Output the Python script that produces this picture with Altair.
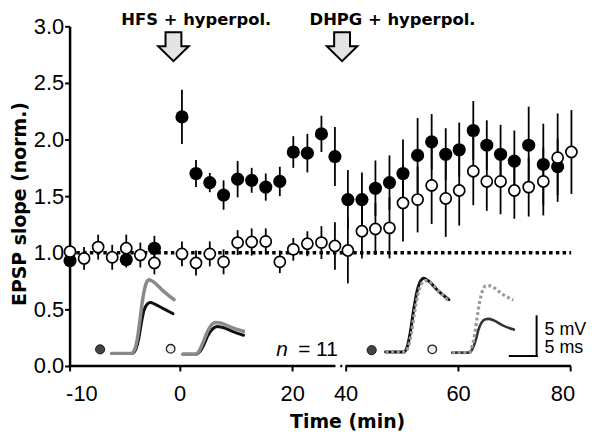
import altair as alt
import pandas as pd

# ---------------- data ----------------
# positions on the (broken) time axis, in axis units
base_pos = [-19.5, -17.0, -14.5, -12.0, -9.5, -7.0, -4.5]
post_pos = [0.4, 2.9, 5.35, 7.8, 10.3, 12.8, 15.3, 17.8, 20.2, 22.7, 25.2, 27.6]
late_pos = [29.9, 32.4, 34.8, 37.3, 39.7, 42.3, 44.8, 47.3, 49.7, 52.2, 54.6,
            57.05, 59.5, 62.05, 64.65, 67.2, 69.65]

# filled circles
filled_base_pos = [-19.5, -9.5, -4.5]
filled_base = [0.93, 0.94, 1.04]
filled_base_sem = [0.06, 0.07, 0.11]
filled_post = [2.20, 1.70, 1.62, 1.51, 1.65, 1.64, 1.58, 1.63, 1.89, 1.88, 2.05, 1.85]
filled_post_sem = [0.24, 0.12, 0.085, 0.13, 0.16, 0.11, 0.12, 0.13, 0.14, 0.17, 0.16, 0.26]
filled_late = [1.47, 1.47, 1.57, 1.62, 1.70, 1.86, 1.98, 1.87, 1.91, 2.08, 1.95,
               1.87, 1.81, 1.95, 1.78, 1.76]
filled_late_sem = [0.26, 0.24, 0.245, 0.24, 0.30, 0.33, 0.245, 0.23, 0.24, 0.26, 0.22,
                   0.26, 0.27, 0.34, 0.36, 0.25]

# open circles
open_base = [1.01, 0.95, 1.05, 0.96, 1.04, 0.98, 0.91]
open_base_sem = [0.05, 0.10, 0.11, 0.11, 0.12, 0.11, 0.10]
open_post = [0.99, 0.91, 0.99, 0.92, 1.09, 1.095, 1.10, 0.92, 1.03, 1.08, 1.09, 1.06]
open_post_sem = [0.11, 0.11, 0.11, 0.11, 0.11, 0.12, 0.115, 0.10, 0.10, 0.11, 0.145, 0.21]
open_late = [1.02, 1.19, 1.21, 1.22, 1.44, 1.47, 1.595, 1.48, 1.55, 1.72, 1.63,
             1.63, 1.55, 1.58, 1.63, 1.84, 1.89]
open_late_sem = [0.29, 0.24, 0.23, 0.27, 0.34, 0.29, 0.34, 0.34, 0.31, 0.30, 0.26,
                 0.29, 0.25, 0.26, 0.30, 0.39, 0.37]

# x axis ticks (axis units) and y ticks
x_ticks = [-19.58, 0, 20, 29.5, 49.5, 69.5]
y_ticks = [0, 0.5, 1.0, 1.5, 2.0, 2.5, 3.0]
X_MIN, X_MAX = -19.58, 69.6
BREAK_LEFT_END, BREAK_DOT, BREAK_RIGHT_START = 27.7, [28.55, 28.9], 29.45

# arrows and their labels
arrow_x = [-1.11, 28.87]
arrow_y = [2.82, 2.82]
arrow_text = ["HFS + hyperpol.", "DHPG + hyperpol."]
arrow_text_x = [2.95, 37.84]
arrow_text_y = [3.013, 3.013]

# EPSP example traces (ms, mV)
t1_gray_ms = [0, 3.6, 4.2, 4.8, 5.3, 5.8, 6.3, 6.9, 7.5, 9.5, 11.6]
t1_gray_mv = [0, 0, 0.4, 2.0, 4.5, 7.0, 8.6, 9.25, 9.1, 7.9, 6.75]
t1_black_ms = [0, 3.8, 4.4, 5.0, 5.5, 6.0, 6.6, 7.2, 8.0, 9.7, 11.4]
t1_black_mv = [0, 0, 0.4, 1.8, 3.8, 5.4, 6.2, 6.4, 6.2, 5.6, 5.0]
t2_gray_ms = [0, 2.3, 3.0, 3.7, 4.4, 5.2, 6.1, 7.0, 9.0, 11.3]
t2_gray_mv = [0, 0, 0.4, 1.4, 2.6, 3.6, 4.0, 3.95, 3.4, 2.9]
t2_black_ms = [0, 2.4, 3.1, 3.9, 4.6, 5.4, 6.4, 7.3, 9.2, 11.3]
t2_black_mv = [0, 0, 0.3, 1.2, 2.3, 3.1, 3.5, 3.4, 2.9, 2.4]
t3_black_ms = [0, 3.4, 4.0, 4.6, 5.2, 5.8, 6.4, 7.1, 7.9, 9.8, 11.8]
t3_black_mv = [0, 0, 0.6, 2.5, 5.2, 7.5, 8.8, 9.3, 9.0, 7.7, 6.6]
t3_gray_ms = [0, 3.6, 4.2, 4.8, 5.4, 6.0, 6.7, 7.4, 8.3, 10.0, 11.8]
t3_gray_mv = [0, 0, 0.6, 2.4, 5.0, 7.2, 8.6, 9.0, 8.8, 7.6, 6.4]
t4_gray_ms = [0, 3.1, 3.7, 4.2, 4.6, 5.1, 5.6, 6.3, 7.1, 8.5, 10.0, 11.4]
t4_gray_mv = [0, 0, 0.8, 2.3, 4.2, 6.3, 7.7, 8.4, 8.4, 7.8, 7.1, 6.6]
t4_black_ms = [0, 3.2, 3.8, 4.4, 4.9, 5.5, 6.2, 6.8, 7.6, 9.5, 11.5]
t4_black_mv = [0, 0, 0.5, 1.6, 2.9, 3.8, 4.2, 4.25, 4.1, 3.4, 2.9]
trace_origin_x = {"t1": -12.07, "t2": 0.57, "t3": 36.61, "t4": 48.45}
trace_origin_y = {"t1": 0.1115, "t2": 0.103, "t3": 0.123, "t4": 0.118}
MS_TO_X = 0.954   # 5 ms scale bar
MV_TO_Y = 0.0702  # 5 mV scale bar

marker_dark_x = [-14.15, 34.13]
marker_dark_y = [0.147, 0.140]
marker_light_x = [-1.61, 44.91]
marker_light_y = [0.152, 0.147]

bar_corner_x, bar_corner_y = 63.46, 0.088
bar_len_x, bar_len_y = 5 * MS_TO_X, 5 * MV_TO_Y
bar_label_x = 64.88
bar_labels = ["5 mV", "5 ms"]
bar_label_y = [0.278, 0.118]

n_label_x = [17.17, 21.06]
n_label_y = 0.088

# ---------------- build tables ----------------
fp = filled_base_pos + post_pos + late_pos[:len(filled_late)]
fv = filled_base + filled_post + filled_late
fs = filled_base_sem + filled_post_sem + filled_late_sem
op = base_pos + post_pos + late_pos
ov = open_base + open_post + open_late
os_ = open_base_sem + open_post_sem + open_late_sem

df_f = pd.DataFrame({"x": fp, "y": fv, "lo": [v - s for v, s in zip(fv, fs)],
                     "hi": [v + s for v, s in zip(fv, fs)]})
df_o = pd.DataFrame({"x": op, "y": ov, "lo": [v - s for v, s in zip(ov, os_)],
                     "hi": [v + s for v, s in zip(ov, os_)]})
df_bars = pd.concat([df_f, df_o], ignore_index=True)


def trace(name, key, ms, mv):
    return pd.DataFrame({
        "id": name, "i": list(range(len(ms))),
        "x": [trace_origin_x[key] + t * MS_TO_X for t in ms],
        "y": [trace_origin_y[key] + v * MV_TO_Y for v in mv],
    })


tr_black = pd.concat([trace("t1b", "t1", t1_black_ms, t1_black_mv),
                      trace("t2b", "t2", t2_black_ms, t2_black_mv),
                      trace("t3b", "t3", t3_black_ms, t3_black_mv)])
tr_black4 = trace("t4b", "t4", t4_black_ms, t4_black_mv)
tr_gray = pd.concat([trace("t1g", "t1", t1_gray_ms, t1_gray_mv),
                     trace("t2g", "t2", t2_gray_ms, t2_gray_mv)])
tr_dot = pd.concat([trace("t3g", "t3", t3_gray_ms, t3_gray_mv),
                    trace("t4g", "t4", t4_gray_ms, t4_gray_mv)])

xs = alt.Scale(domain=[X_MIN, X_MAX], nice=False, zero=False)
ys = alt.Scale(domain=[0, 3], nice=False, zero=False)

x_axis = alt.Axis(
    values=x_ticks,
    labelExpr="datum.value < -10 ? '-10' : format(datum.value < 25 ? datum.value : datum.value + 10.5, 'd')",
    title="Time (min)", titleX=279.5, titleY=62,
)
y_axis = alt.Axis(
    values=y_ticks, format=".1f",
    title="EPSP slope (norm.)", titleX=-44, titleY=178.4,
)

X = lambda **k: alt.X("x:Q", scale=xs, **k)
Y = lambda **k: alt.Y("y:Q", scale=ys, **k)

# error bars (carry the axes)
bars = alt.Chart(df_bars).mark_rule(color="black", strokeWidth=1.8).encode(
    x=X(axis=x_axis), y=alt.Y("lo:Q", scale=ys, axis=y_axis), y2="hi:Q")

dotted = alt.Chart(pd.DataFrame({"x": [X_MIN], "x2": [X_MAX], "y": [1.0]})).mark_rule(
    color="black", strokeWidth=3.5, strokeDash=[3.5, 3.3]).encode(
    x=X(), x2="x2:Q", y=Y())

axis_line = alt.Chart(pd.DataFrame({
    "x": [X_MIN, BREAK_DOT[0], BREAK_RIGHT_START],
    "x2": [BREAK_LEFT_END, BREAK_DOT[1], X_MAX],
    "y": [0, 0, 0]})).mark_rule(color="black", strokeWidth=2.5).encode(
    x=X(), x2="x2:Q", y=Y())

filled = alt.Chart(df_f).mark_circle(size=175, color="black", opacity=1).encode(
    x=X(), y=Y())
opened = alt.Chart(df_o).mark_point(shape="circle", filled=True, fill="white",
                                    stroke="black", strokeWidth=1.7, size=125,
                                    opacity=1).encode(x=X(), y=Y())

arrow_path = "M -0.52 -0.945 L 0.52 -0.945 L 0.52 -0.03 L 1 -0.03 L 0 0.945 L -1 -0.03 L -0.52 -0.03 Z"
arrows = alt.Chart(pd.DataFrame({"x": arrow_x, "y": arrow_y})).mark_point(
    shape=arrow_path, size=942, filled=True, fill="#e4e4e4", stroke="black",
    strokeWidth=2, opacity=1, strokeJoin="miter").encode(x=X(), y=Y())
arrow_labels = alt.Chart(pd.DataFrame({"x": arrow_text_x, "y": arrow_text_y,
                                       "t": arrow_text})).mark_text(
    font="DejaVu Sans", fontWeight="bold", fontSize=16.5, color="black",
    align="center", baseline="alphabetic").encode(x=X(), y=Y(), text="t:N")


def lines(df, color, width, dash=None):
    kw = dict(color=color, strokeWidth=width, interpolate="monotone",
              strokeJoin="round", strokeCap="round")
    if dash:
        kw["strokeDash"] = dash
        kw["strokeCap"] = "butt"
    return alt.Chart(df).mark_line(**kw).encode(
        x=X(), y=Y(), detail="id:N", order="i:Q")


tr1 = lines(tr_black, "#111111", 3)
tr1b = lines(tr_black4, "#333333", 2.6)
tr2 = lines(tr_gray, "#8a8a8a", 3.5)
tr3 = lines(tr_dot, "#9a9a9a", 3.2, [3, 2.6])

mk_dark = alt.Chart(pd.DataFrame({"x": marker_dark_x, "y": marker_dark_y})).mark_point(
    shape="circle", filled=True, fill="#444444", stroke="#1a1a1a", strokeWidth=1,
    size=85, opacity=1).encode(x=X(), y=Y())
mk_light = alt.Chart(pd.DataFrame({"x": marker_light_x, "y": marker_light_y})).mark_point(
    shape="circle", filled=True, fill="#eeeeee", stroke="#222222", strokeWidth=1.3,
    size=75, opacity=1).encode(x=X(), y=Y())

scale_bar = alt.Chart(pd.DataFrame({
    "x": [bar_corner_x, bar_corner_x - bar_len_x],
    "x2": [bar_corner_x, bar_corner_x],
    "y": [bar_corner_y, bar_corner_y],
    "y2": [bar_corner_y + bar_len_y, bar_corner_y]})).mark_rule(
    color="black", strokeWidth=2, strokeCap="square").encode(
    x=X(), x2="x2:Q", y=Y(), y2="y2:Q")
scale_text = alt.Chart(pd.DataFrame({"x": [bar_label_x] * 2, "y": bar_label_y,
                                     "t": bar_labels})).mark_text(
    font="Liberation Sans", fontSize=18, color="black", align="left",
    baseline="alphabetic").encode(x=X(), y=Y(), text="t:N")

n_text = alt.Chart(pd.DataFrame({"x": [n_label_x[0]], "y": [n_label_y], "t": ["n"]})).mark_text(
    font="Liberation Sans", fontSize=21, fontStyle="italic", color="black",
    align="left", baseline="alphabetic").encode(x=X(), y=Y(), text="t:N")
n_val = alt.Chart(pd.DataFrame({"x": [n_label_x[1]], "y": [n_label_y], "t": ["= 11"]})).mark_text(
    font="Liberation Sans", fontSize=21, color="black",
    align="left", baseline="alphabetic").encode(x=X(), y=Y(), text="t:N")

chart = alt.layer(
    bars, dotted, axis_line, filled, opened, arrows, arrow_labels,
    tr1, tr1b, tr2, tr3, mk_dark, mk_light, scale_bar, scale_text, n_text, n_val,
).properties(
    width=505, height=342,
    padding={"left": 62, "top": 17, "right": 22, "bottom": 65},
    autosize=alt.AutoSizeParams(type="none"),
    background="white",
).configure_view(stroke="transparent").configure_axis(
    grid=False, tickWidth=2, tickColor="black", tickSize=5,
    labelFont="Liberation Sans", labelFontSize=22, labelColor="black",
    titleFont="DejaVu Sans", titleFontWeight="bold", titleColor="black",
    titleAlign="center", titleBaseline="alphabetic",
).configure_axisX(
    domain=False, labelPadding=13, labelFlush=3, labelFlushOffset=4,
    labelOverlap=False, titleFontSize=19,
).configure_axisY(
    domainColor="black", domainWidth=2.5, labelPadding=1, titleFontSize=19,
    titleAngle=-90,
)

chart.save("out.html", embed_options={"renderer": "svg", "actions": False})
